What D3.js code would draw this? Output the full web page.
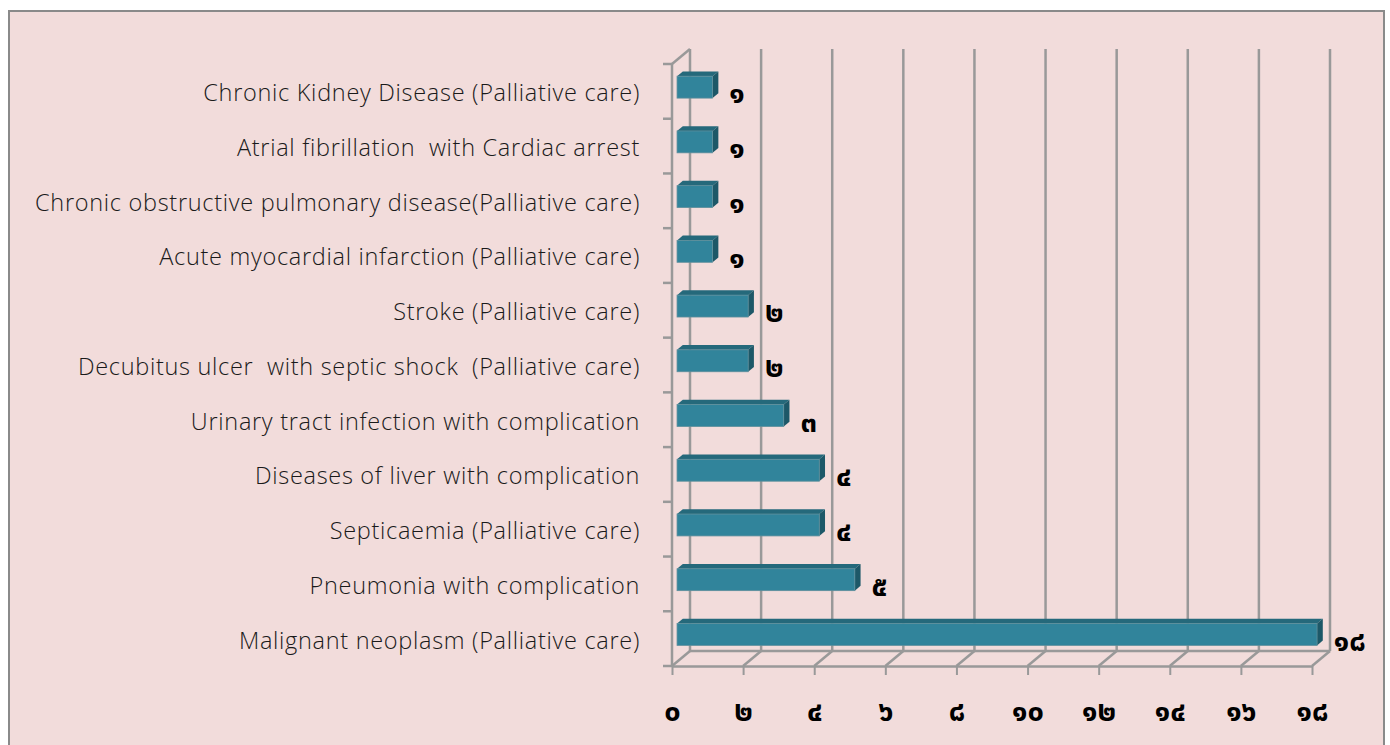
<!DOCTYPE html>
<html>
<head>
<meta charset="utf-8">
<script src="https://cdn.jsdelivr.net/npm/d3@7"></script>
<style>
    body { margin: 0; background: #ffffff; }
    svg { display: block; }
    .cat text { font-family: "Open Sans", "Noto Sans", sans-serif; font-size: 23.5px; font-weight: 300; letter-spacing: 0.7px; fill: #1a1a1a; white-space: pre; }
    .num { font-family: "Noto Sans Thai", "Loma", "Garuda", "Norasi", sans-serif; font-weight: 700; fill: #000; }
</style>
</head>
<body>
<div id="chart"></div>
<script>

// data
const categories = [
    "Chronic Kidney Disease (Palliative care)",
    "Atrial fibrillation  with Cardiac arrest",
    "Chronic obstructive pulmonary disease(Palliative care)",
    "Acute myocardial infarction (Palliative care)",
    "Stroke (Palliative care)",
    "Decubitus ulcer  with septic shock  (Palliative care)",
    "Urinary tract infection with complication",
    "Diseases of liver with complication",
    "Septicaemia (Palliative care)",
    "Pneumonia with complication",
    "Malignant neoplasm (Palliative care)"
];
const values = [1, 1, 1, 1, 2, 2, 3, 4, 4, 5, 18];
const xTickValues = [0, 2, 4, 6, 8, 10, 12, 14, 16, 18];
const xTickLabels = ["๐", "๒", "๔", "๖", "๘", "๑๐", "๑๒", "๑๔", "๑๖", "๑๘"];

const thaiDigits = "๐๑๒๓๔๕๖๗๘๙";
const toThai = n => String(n).replace(/[0-9]/g, c => thaiDigits[+c]);

const W = 1390, H = 745;

// front plane of the 3d box
const x = d3.scaleLinear().domain([0, 18]).range([672, 1312]);
const y = d3.scaleBand().domain(categories).range([64, 666]).paddingInner(0.6).paddingOuter(0.3);
const depth = {dx: 18, dy: -15};
const z0 = 0.28, z1 = 0.6;   // slice of the depth used by bars

const pt = (v, yy, z) => [x(v) + z * depth.dx, yy + z * depth.dy];

const svg = d3.select("#chart").append("svg")
    .attr("width", W)
    .attr("height", H);

// background + border
svg.append("rect")
    .attr("x", 9).attr("y", 11)
    .attr("width", 1375).attr("height", 760)
    .attr("fill", "#f2dcdb")
    .attr("stroke", "#8a8a8a")
    .attr("stroke-width", 2);

const gridColor = "#999999";
const top0 = y.range()[0], bot0 = y.range()[1];

let grid = svg.append("g")
    .attr("stroke", gridColor)
    .attr("stroke-width", 2.5)
    .attr("fill", "none");

// back wall gridlines
grid.selectAll("line.back")
    .data(xTickValues)
    .enter()
    .append("line")
    .attr("class", "back")
    .attr("x1", d => x(d) + depth.dx).attr("x2", d => x(d) + depth.dx)
    .attr("y1", top0 + depth.dy).attr("y2", bot0 + depth.dy);

// floor diagonals
grid.selectAll("line.floor")
    .data(xTickValues)
    .enter()
    .append("line")
    .attr("class", "floor")
    .attr("x1", d => x(d)).attr("x2", d => x(d) + depth.dx)
    .attr("y1", bot0).attr("y2", bot0 + depth.dy);

// back floor edge
grid.append("line")
    .attr("x1", x(0) + depth.dx).attr("x2", x(18) + depth.dx)
    .attr("y1", bot0 + depth.dy).attr("y2", bot0 + depth.dy);

// left wall: front edge and top diagonal
grid.append("line")
    .attr("x1", x(0)).attr("x2", x(0))
    .attr("y1", top0).attr("y2", bot0);
grid.append("line")
    .attr("x1", x(0)).attr("x2", x(0) + depth.dx)
    .attr("y1", top0).attr("y2", top0 + depth.dy);

// left ticks at category boundaries
let bounds = d3.range(categories.length + 1).map(i => top0 + i * y.step());
grid.selectAll("line.ltick")
    .data(bounds)
    .enter()
    .append("line")
    .attr("class", "ltick")
    .attr("x1", x(0) - 9).attr("x2", x(0))
    .attr("y1", d => d).attr("y2", d => d);

// bottom axis (front)
let xAxis = d3.axisBottom(x)
    .tickValues(xTickValues)
    .tickSize(9)
    .tickPadding(25)
    .tickSizeOuter(0)
    .tickFormat((d, i) => xTickLabels[i]);

let gx = svg.append("g")
    .attr("transform", "translate(0," + bot0 + ")")
    .call(xAxis);
gx.select(".domain").attr("stroke", gridColor).attr("stroke-width", 2.5);
gx.selectAll(".tick line").attr("stroke", gridColor).attr("stroke-width", 2);
gx.selectAll(".tick text")
    .attr("class", "num")
    .attr("font-size", 29)
    .attr("fill", "#000");

// category labels
let yAxis = d3.axisLeft(y)
    .tickSize(0)
    .tickPadding(32);
let gy = svg.append("g")
    .attr("class", "cat")
    .attr("transform", "translate(" + x(0) + ",0)")
    .call(yAxis);
gy.select(".domain").remove();
gy.selectAll(".tick text")
    .attr("font-size", null)
    .attr("font-family", null)
    .attr("dy", "0.42em");

// bars
const colFront = "#31849b", colTop = "#25697b", colSide = "#1d5868";

let bars = svg.selectAll("g.bar")
    .data(categories.map((c, i) => ({cat: c, val: values[i]})))
    .enter()
    .append("g")
    .attr("class", "bar");

bars.append("polygon")
    .attr("points", d => {
        let t = y(d.cat);
        return [pt(0, t, z0), pt(d.val, t, z0), pt(d.val, t, z1), pt(0, t, z1)].join(" ");
    })
    .attr("fill", colTop);

bars.append("polygon")
    .attr("points", d => {
        let t = y(d.cat), b = y(d.cat) + y.bandwidth();
        return [pt(d.val, t, z0), pt(d.val, t, z1), pt(d.val, b, z1), pt(d.val, b, z0)].join(" ");
    })
    .attr("fill", colSide);

bars.append("rect")
    .attr("x", d => pt(0, 0, z0)[0])
    .attr("y", d => pt(0, y(d.cat), z0)[1])
    .attr("width", d => x(d.val) - x(0))
    .attr("height", y.bandwidth())
    .attr("fill", colFront)
    .attr("stroke", "#5d8f9c")
    .attr("stroke-width", 0.8);

// value labels
bars.append("text")
    .attr("class", "num")
    .attr("x", d => pt(d.val, 0, z1)[0] + 11)
    .attr("y", d => y(d.cat) + y.bandwidth() / 2 + 12)
    .attr("font-size", 29)
    .text(d => toThai(d.val));

</script>
</body>
</html>
